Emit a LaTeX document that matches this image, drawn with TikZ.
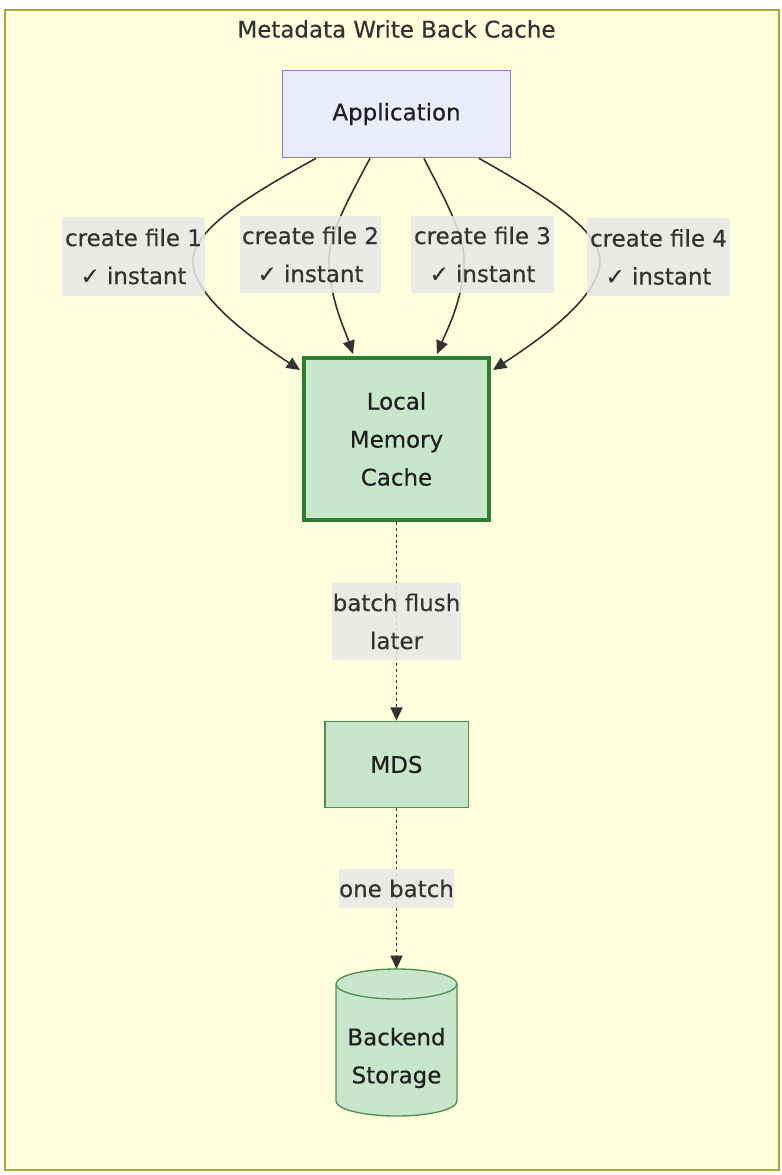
\documentclass[tikz,border=0pt]{standalone}
\usepackage{fontspec}
\setmainfont{DejaVu Sans}[FakeBold=0.4]
\newfontfamily\symfont{DejaVu Sans}[FakeBold=0.4]
\usetikzlibrary{calc,arrows.meta}
\definecolor{clusterfill}{HTML}{FFFFDE}
\definecolor{clusterdraw}{HTML}{AAAA33}
\definecolor{appfill}{HTML}{ECECFF}
\definecolor{appdraw}{HTML}{9370DB}
\definecolor{greenfill}{HTML}{C8E6C9}
\definecolor{greendraw}{HTML}{2E7D32}
\definecolor{greenthin}{HTML}{4E8F52}
\definecolor{labelfill}{HTML}{E8E8E8}
\definecolor{edgecol}{HTML}{333333}
\definecolor{txt}{HTML}{1F1F1F}
\begin{document}
\begin{tikzpicture}[x=0.75pt,y=0.75pt,
  every node/.style={font=\fontsize{17.2}{28.5}\selectfont, text=txt},
  box/.style={draw, align=center, inner sep=0pt},
  elabel/.style={fill=labelfill, fill opacity=0.85, text opacity=1, inner sep=0pt, align=center, text=edgecol},
  flow/.style={draw=edgecol, line width=1.2pt, -{Triangle[length=10pt,width=9pt]}},
  dotflow/.style={flow, dash pattern=on 2.2pt off 2.2pt}
]
\useasboundingbox (0,0) rectangle (782,-1175);
\fill[white] (0,0) rectangle (782,-1175);
\draw[clusterdraw, fill=clusterfill, line width=1pt] (5,-10) rectangle (779,-1170);
\node[text=edgecol] (title) at (396.5,-29) {Metadata Write Back Cache};

\node[box, draw=appdraw, fill=appfill, line width=1pt, minimum width=171pt, minimum height=65.5pt] (app) at (396.5,-114) {Application};
\node[box, draw=greendraw, fill=greenfill, line width=3pt, minimum width=138.75pt, minimum height=121.5pt] (local) at (396.5,-439) {Local\\Memory\\Cache};
\node[box, draw=greenthin, fill=greenfill, line width=1pt, minimum width=107.5pt, minimum height=64.75pt] (mds) at (396.5,-764.5) {MDS};

% cylinder
\draw[greenthin, fill=greenfill, line width=1pt]
  (336,-984) -- (336,-1101)
  arc[start angle=180, end angle=360, x radius=45.375pt, y radius=11.25pt]
  -- (457,-984)
  arc[start angle=0, end angle=180, x radius=45.375pt, y radius=11.25pt] -- cycle;
\draw[greenthin, line width=1pt] (336,-984) arc[start angle=180, end angle=360, x radius=45.375pt, y radius=11.25pt];
\node[align=center, inner sep=0pt] (store) at (396.5,-1058) {Backend\\Storage};
\coordinate (storetop) at (396.5,-969);

% edges
\draw[flow] ($(app.south)+(-80.5,0)$) .. controls (240,-200) and (192,-232) .. (193,-262)
  .. controls (194,-300) and (262,-345) .. ($(local.north west)+(-2,-14)$);
\draw[flow] ($(app.south)+(-26.5,0)$) .. controls (348,-200) and (328,-235) .. (329,-262)
  .. controls (330,-300) and (345,-330) .. ($(local.north)+(-43.5,2)$);
\draw[flow] ($(app.south)+(27.5,0)$) .. controls (445,-200) and (465,-235) .. (464,-262)
  .. controls (463,-300) and (447,-330) .. ($(local.north)+(40.5,2)$);
\draw[flow] ($(app.south)+(82.5,0)$) .. controls (553,-200) and (601,-232) .. (600,-262)
  .. controls (599,-300) and (531,-345) .. ($(local.north east)+(2,-14)$);
\draw[dotflow] (local.south) -- (mds.north);
\draw[dotflow] (mds.south) -- (storetop);

% edge labels
\node[elabel, minimum width=107.25pt, minimum height=59.25pt] (l1) at (133.5,-256.5) {create file 1\\{\symfont ✓} instant};
\node[elabel, minimum width=105.75pt, minimum height=57.75pt] (l2) at (310.5,-254.5) {create file 2\\{\symfont ✓} instant};
\node[elabel, minimum width=107.25pt, minimum height=57.75pt] (l3) at (482.5,-254.5) {create file 3\\{\symfont ✓} instant};
\node[elabel, minimum width=107.25pt, minimum height=58.5pt] (l4) at (658.5,-257) {create file 4\\{\symfont ✓} instant};
\node[elabel, minimum width=96.75pt, minimum height=57.75pt] (l5) at (396.5,-621.5) {batch flush\\later};
\node[elabel, minimum width=86.25pt, minimum height=29.25pt] (l6) at (396.5,-888.5) {one batch};
\end{tikzpicture}
\end{document}
